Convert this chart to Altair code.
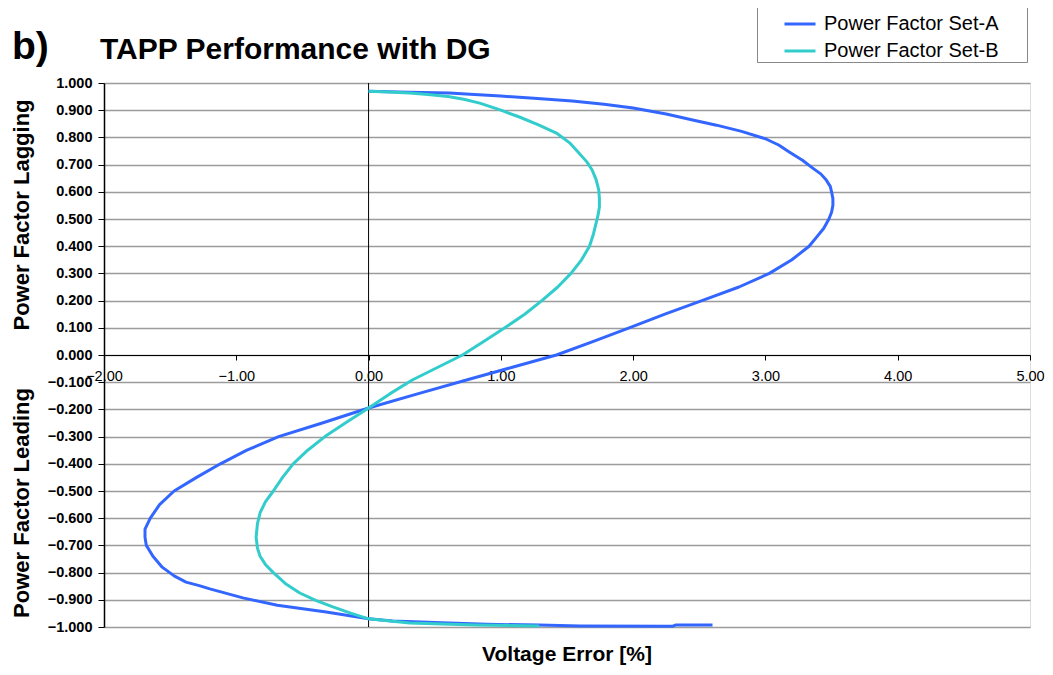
import altair as alt
import pandas as pd

# Series A (Power Factor Set-A): voltage error [%] and power factor
a_x = [0.00, 0.15, 0.30, 0.61, 0.80, 1.00, 1.25, 1.54, 1.78, 2.00, 2.25, 2.45, 2.63, 2.82, 3.00, 3.10,
       3.18, 3.28, 3.35, 3.42, 3.46, 3.49, 3.50, 3.51, 3.51, 3.50, 3.48, 3.44, 3.39, 3.33, 3.20, 3.03,
       2.80, 2.52, 2.24, 1.97, 1.70, 1.42, 1.08, 0.74, 0.37, 0.00,
       -0.35, -0.68, -0.92, -1.12, -1.30, -1.47, -1.58, -1.65, -1.69, -1.69, -1.68, -1.63, -1.56, -1.47, -1.38,
       -1.28, -1.20, -0.95, -0.69, -0.32, 0.00, 0.18, 0.61, 0.89, 1.29, 1.60, 2.30, 2.32, 2.60]
a_y = [0.970, 0.968, 0.966, 0.963, 0.958, 0.952, 0.944, 0.934, 0.922, 0.908, 0.886, 0.864, 0.845, 0.822, 0.795, 0.772,
       0.746, 0.716, 0.690, 0.665, 0.643, 0.620, 0.600, 0.575, 0.550, 0.525, 0.500, 0.465, 0.435, 0.400, 0.350, 0.300,
       0.250, 0.200, 0.150, 0.100, 0.050, 0.000, -0.046, -0.092, -0.143, -0.195,
       -0.250, -0.300, -0.350, -0.400, -0.450, -0.500, -0.550, -0.600, -0.640, -0.670, -0.700, -0.740, -0.780, -0.812, -0.835,
       -0.848, -0.860, -0.893, -0.920, -0.945, -0.970, -0.978, -0.985, -0.990, -0.993, -0.996, -0.997, -0.993, -0.993]

# Series B (Power Factor Set-B)
b_x = [0.00, 0.15, 0.31, 0.45, 0.60, 0.72, 0.84, 1.00, 1.14, 1.28, 1.42, 1.52, 1.59, 1.65, 1.69, 1.72,
       1.74, 1.745, 1.745, 1.735, 1.72, 1.70, 1.67, 1.61, 1.53, 1.43, 1.31, 1.18, 1.03, 0.87, 0.71, 0.52,
       0.33, 0.16, 0.00,
       -0.17, -0.33, -0.46, -0.57, -0.65, -0.72, -0.78, -0.82, -0.84, -0.85, -0.84, -0.82, -0.78, -0.72,
       -0.63, -0.52, -0.40, -0.27, -0.13, 0.00, 0.31, 0.81, 1.29]
b_y = [0.970, 0.967, 0.963, 0.958, 0.950, 0.940, 0.926, 0.900, 0.875, 0.847, 0.816, 0.780, 0.743, 0.710, 0.680, 0.645,
       0.607, 0.575, 0.544, 0.515, 0.485, 0.445, 0.400, 0.350, 0.300, 0.250, 0.200, 0.150, 0.100, 0.050, 0.000, -0.046,
       -0.092, -0.143, -0.195,
       -0.248, -0.300, -0.350, -0.400, -0.450, -0.500, -0.540, -0.580, -0.620, -0.670, -0.710, -0.740, -0.770, -0.800,
       -0.840, -0.875, -0.902, -0.926, -0.950, -0.970, -0.985, -0.993, -0.996]

series_names = ["Power Factor Set-A", "Power Factor Set-B"]
series_colors = ["#3366FF", "#33CCCC"]
x_ticks = [-2, -1, 0, 1, 2, 3, 4, 5]
y_ticks = [round(-1 + 0.1 * i, 1) for i in range(21)]

rows = []
for i, (xv, yv) in enumerate(zip(a_x, a_y)):
    rows.append({"series": series_names[0], "x": xv, "y": yv, "idx": i})
for i, (xv, yv) in enumerate(zip(b_x, b_y)):
    rows.append({"series": series_names[1], "x": xv, "y": yv, "idx": i})
df = pd.DataFrame(rows)

FONT = "Liberation Sans"
W, H = 926, 544

xscale = alt.Scale(domain=[-2, 5], nice=False, zero=False)
yscale = alt.Scale(domain=[-1, 1], nice=False, zero=False)

lines = alt.Chart(df).mark_line(strokeWidth=3, strokeJoin="round").encode(
    x=alt.X("x:Q", scale=xscale, title=None,
            axis=alt.Axis(values=x_ticks, format=".2f", offset=-H / 2, grid=False,
                          domainColor="black", domainWidth=1, tickColor="black", tickSize=5,
                          labelFont=FONT, labelFontSize=14.5, labelColor="black",
                          labelPadding=9, labelFlush=False, labelOverlap=False, labelBound=False)),
    y=alt.Y("y:Q", scale=yscale, title=None,
            axis=alt.Axis(values=y_ticks, format=".3f", grid=True, gridColor="#9c9c9c", gridWidth=1.5,
                          domainColor="black", domainWidth=1.5, tickColor="black", tickSize=6,
                          labelFont=FONT, labelFontSize=14.5, labelFontWeight="bold", labelColor="black",
                          labelPadding=6, labelFlush=False, labelOverlap=False, labelBound=False)),
    color=alt.Color("series:N", scale=alt.Scale(domain=series_names, range=series_colors),
                    legend=alt.Legend(title=" ", titleOrient="right", titlePadding=27, titleFontSize=6,
                                      orient="none", legendX=653, legendY=-77,
                                      fillColor="white", strokeColor="#888888", padding=1,
                                      symbolType="stroke", symbolStrokeWidth=3, symbolSize=961,
                                      symbolOffset=25, labelOffset=7, rowPadding=-3, labelLimit=400,
                                      labelFont=FONT, labelFontSize=20, labelColor="black")),
    order="idx:Q",
)

zero_rule = alt.Chart(pd.DataFrame({"x": [0]})).mark_rule(color="black", strokeWidth=1).encode(
    x=alt.X("x:Q", scale=xscale)
)

def label(text, x, y, size, weight="bold", angle=0, align="left", baseline="alphabetic"):
    return alt.Chart(pd.DataFrame({"t": [text]})).mark_text(
        font=FONT, fontSize=size, fontWeight=weight, color="black",
        angle=angle, align=align, baseline=baseline
    ).encode(text="t:N", x=alt.value(x), y=alt.value(y))

panel = label("b)", -92, -24, 39)
title = label("TAPP Performance with DG", -4, -24, 30)
xtitle = label("Voltage Error [%]", W / 2, 578, 21, align="center")
ylag = label("Power Factor Lagging", -82, 132, 22, angle=270, align="center", baseline="middle")
ylead = label("Power Factor Leading", -82, 420, 22, angle=270, align="center", baseline="middle")

chart = alt.layer(zero_rule, lines, panel, title, xtitle, ylag, ylead).properties(
    width=W, height=H,
    autosize=alt.AutoSizeParams(type="none"),
    padding={"left": 96, "top": 75, "right": 15, "bottom": 40},
).configure_view(stroke="#9c9c9c", strokeWidth=1.5).configure(background="white")

chart.save("out.html", embed_options={"renderer": "svg", "actions": False})
